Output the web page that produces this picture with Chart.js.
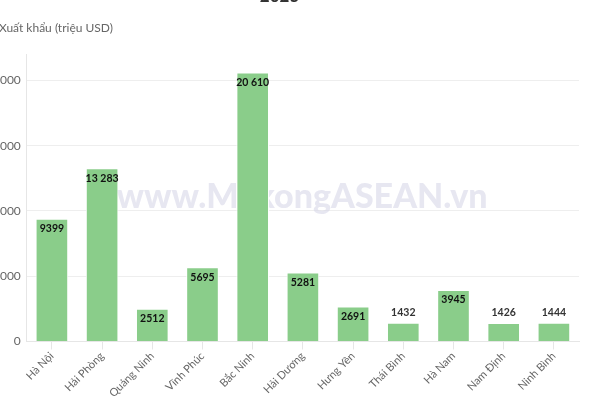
<!DOCTYPE html>
<html>
<head>
<meta charset="utf-8">
<script src="https://cdn.jsdelivr.net/npm/chart.js@4/dist/chart.umd.min.js"></script>
<style>
  html, body { margin: 0; padding: 0; background: #fff; }
  #wrap { position: relative; width: 600px; height: 400px; overflow: hidden; }
  #box { position: absolute; left: -20px; top: -14px; width: 620px; height: 414px; }
</style>
</head>
<body>
<div id="wrap"><div id="box"><canvas id="chart"></canvas></div></div>
<script>
// --- data ---
const categories = ['Hà Nội', 'Hải Phòng', 'Quảng Ninh', 'Vĩnh Phúc', 'Bắc Ninh', 'Hải Dương',
  'Hưng Yên', 'Thái Bình', 'Hà Nam', 'Nam Định', 'Ninh Bình'];
const exportValues = [9399, 13283, 2512, 5695, 20610, 5281, 2691, 1432, 3945, 1426, 1444];
const yTicks = [0, 5000, 10000, 15000, 20000];
const chartTitle = '2023';
const axisTitle = 'Xuất khẩu (triệu USD)';
const watermark = 'www.MekongASEAN.vn';

const FONT = 'Lato, "Open Sans", sans-serif';
const OFF_X = 20, OFF_Y = 14; // canvas is shifted up/left, so edges get clipped like the original

// 4-digit numbers stay plain, bigger ones get a space separator
function fmt(v) {
  if (v < 10000) return String(v);
  return String(v).replace(/\B(?=(\d{3})+(?!\d))/g, ' ');
}

// watermark behind the bars
const watermarkPlugin = {
  id: 'watermark',
  beforeDatasetsDraw(chart) {
    const ctx = chart.ctx;
    ctx.save();
    ctx.font = '900 34px ' + FONT;
    ctx.fillStyle = 'rgba(215, 215, 232, 0.6)';
    ctx.textAlign = 'center';
    ctx.textBaseline = 'middle';
    ctx.fillText(watermark, OFF_X + 302, OFF_Y + 197);
    ctx.restore();
  }
};

// axis title on top-left + value labels on bars
const labelsPlugin = {
  id: 'labels',
  afterDraw(chart) {
    const ctx = chart.ctx;
    ctx.save();
    ctx.font = '12px ' + FONT;
    ctx.fillStyle = '#666';
    ctx.textAlign = 'left';
    ctx.textBaseline = 'middle';
    ctx.fillText(axisTitle, OFF_X - 1, OFF_Y + 28);

    const meta = chart.getDatasetMeta(0);
    ctx.textAlign = 'center';
    meta.data.forEach((bar, i) => {
      const h = bar.base - bar.y;
      ctx.font = 'bold 10.5px ' + FONT;
      if (h > 24) {
        ctx.fillStyle = '#111';
        ctx.fillText(fmt(exportValues[i]), bar.x, bar.y + 10);
      } else {
        ctx.fillStyle = '#333';
        ctx.fillText(fmt(exportValues[i]), bar.x, bar.y - 10);
      }
    });
    ctx.restore();
  }
};

new Chart(document.getElementById('chart'), {
  type: 'bar',
  data: {
    labels: categories,
    datasets: [{
      data: exportValues,
      backgroundColor: '#8acd8a',
      borderColor: '#ffffff',
      borderWidth: 1,
      barPercentage: 0.65,
      categoryPercentage: 1
    }]
  },
  options: {
    responsive: true,
    maintainAspectRatio: false,
    animation: false,
    layout: { padding: { left: 0, right: 21, top: 0, bottom: 0 } },
    plugins: {
      legend: { display: false },
      tooltip: { enabled: false },
      title: {
        display: true,
        text: chartTitle,
        color: '#333',
        font: { size: 17, weight: 'bold', family: FONT },
        padding: { top: 0, bottom: 48 }
      }
    },
    scales: {
      x: {
        offset: true,
        grid: { offset: false, drawOnChartArea: false, drawTicks: true, tickLength: 8, color: '#e6e6e6' },
        border: { display: true, color: '#e6e6e6' },
        ticks: { color: '#666', font: { size: 11, family: FONT }, minRotation: 45, maxRotation: 45, padding: 0 }
      },
      y: {
        min: 0,
        max: 22000,
        afterBuildTicks: axis => { axis.ticks = yTicks.map(v => ({ value: v })); },
        grid: { color: '#eeeeee', drawTicks: false },
        border: { display: true, color: '#e6e6e6' },
        ticks: { color: '#666', font: { size: 12, family: FONT }, padding: 6, callback: v => String(v) }
      }
    }
  },
  plugins: [watermarkPlugin, labelsPlugin]
});
</script>
</body>
</html>
